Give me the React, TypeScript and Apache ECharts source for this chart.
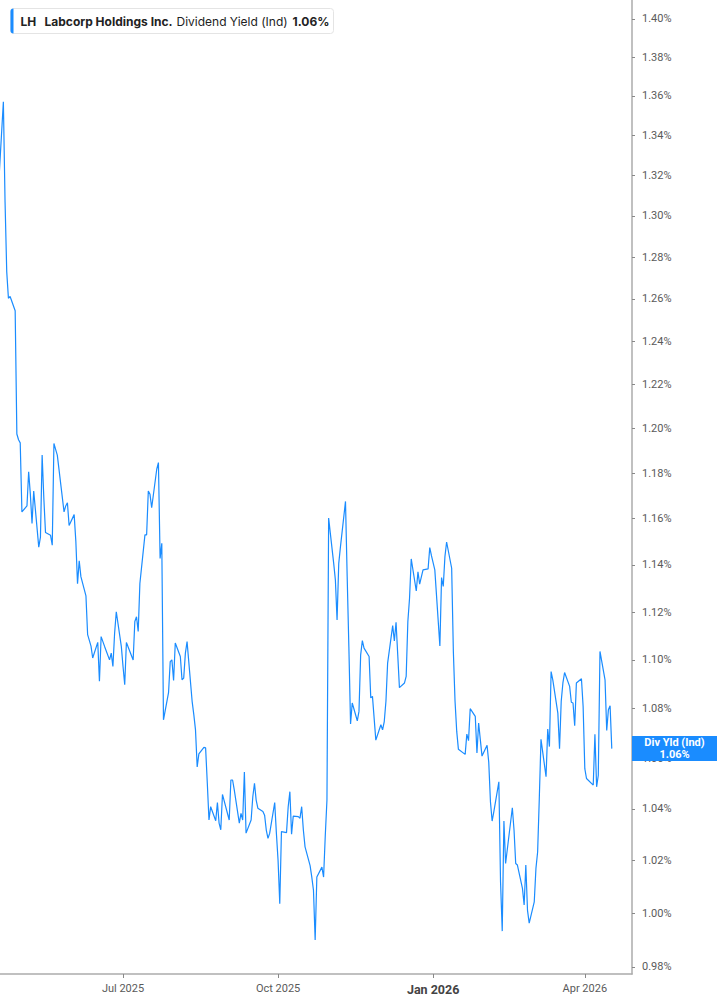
import { useEffect, useRef } from 'react'
import * as echarts from 'echarts'

// daily dividend yield (%), one value per trading day from mid-April 2025
const yieldValues = [
  1.3127, 1.357, 1.3068, 1.2729, 1.2603, 1.2612, 1.2544, 1.1976, 1.195, 1.1936,
  1.163, 1.1656, 1.1807, 1.1708, 1.1579, 1.1722, 1.1477, 1.152, 1.1881, 1.1691,
  1.154, 1.1528, 1.1485, 1.1933, 1.1907, 1.1881, 1.163, 1.1656, 1.167, 1.1571,
  1.1618, 1.1502, 1.132, 1.1418, 1.135, 1.1268, 1.1105, 1.1081, 1.1057, 1.1008,
  1.1073, 1.0912, 1.1097, 1.1057,
  1.1, 1.1028, 1.0973, 1.1111, 1.1201, 1.1055, 1.0973, 1.0898, 1.1072, 1.1,
  1.116, 1.118, 1.1118, 1.1321, 1.153, 1.153, 1.1722, 1.1707, 1.1648, 1.1818,
  1.1848, 1.1428, 1.1493, 1.0755, 1.0865, 1.0993, 1.1, 1.0915, 1.107, 1.1014,
  1.0918, 1.0925, 1.1028, 1.1076, 1.083, 1.0776, 1.0714,
  1.0566, 1.0618, 1.0644, 1.0642, 1.0502, 1.0357,
  1.0409, 1.0354, 1.0425, 1.0345, 1.0319, 1.0457, 1.0357, 1.0514, 1.0514, 1.0475,
  1.0345, 1.0383, 1.0357, 1.0546, 1.0306, 1.0357, 1.0448, 1.0501, 1.0435, 1.0403,
  1.039, 1.0376, 1.0318, 1.0286, 1.0305, 1.0425, 1.0305, 1.02, 1.0036, 1.0312,
  1.0308, 1.0409, 1.0468, 1.0302, 1.0372, 1.037, 1.0364, 1.0409, 1.0318, 1.0253,
  1.0181, 1.0137, 1.0087, 0.99, 1.0137, 1.0175, 1.0137, 1.0296, 1.0435,
  1.1603, 1.1407, 1.1336, 1.1167, 1.1407, 1.1478, 1.1676, 1.135, 1.1055, 1.0738,
  1.0823, 1.0751, 1.0789, 1.1021, 1.108, 1.1049, 1.1014, 1.0844, 1.085, 1.0673,
  1.0735, 1.0714, 1.0748, 1.083, 1.0987, 1.1143, 1.1079, 1.1157, 1.1021,
  1.0886, 1.0905, 1.0932, 1.116, 1.1258, 1.1426, 1.1289, 1.1371, 1.1318,
  1.1379,
  1.1383, 1.1475, 1.144, 1.1379, 1.1058, 1.1346, 1.1308, 1.1436, 1.1499, 1.1386,
  1.1035, 1.083, 1.0708, 1.0636, 1.0616, 1.0697, 1.0671, 1.08, 1.0769, 1.0622,
  1.0742, 1.0675, 1.0609, 1.0652, 1.0585, 1.0429, 1.0353, 1.0389, 1.0507, 1.0118,
  0.9933, 1.0353, 1.0189, 1.0405, 1.0318, 1.0189, 1.0183, 1.0094, 1.0031, 1.0183,
  1.0011, 0.9963, 1.0043, 1.017, 1.0233,
  1.0442, 1.0676, 1.0527, 1.0718, 1.0647, 1.0952, 1.0918, 1.0782, 1.0639, 1.083,
  1.0905, 1.0948, 1.0891, 1.0826, 1.0823, 1.0731, 1.0905, 1.0922, 1.0809, 1.0559,
  1.052, 1.0494, 1.0697, 1.0487, 1.0533, 1.1035, 1.0918, 1.0712, 1.0796, 1.0812,
  1.0639,
]

const firstDay = '2025-04-18'
const marketHolidays = [
  '2025-05-26', '2025-06-19', '2025-07-04', '2025-09-01', '2025-11-27',
  '2025-12-25', '2026-01-01', '2026-01-19', '2026-02-16', '2026-04-03',
]

const xMin = '2025-04-19'
const xMax = '2026-04-29'
const xTicks = ['2025-07-01', '2025-10-01', '2026-01-01', '2026-04-01']
const yTicks = [
  0.98, 1.0, 1.02, 1.04, 1.06, 1.08, 1.1, 1.12, 1.14, 1.16, 1.18, 1.2, 1.22, 1.24, 1.26,
  1.28, 1.3, 1.32, 1.34, 1.36, 1.38, 1.4,
]
const yMin = 0.9774
const yMax = 1.41

const ticker = 'LH'
const company = 'Labcorp Holdings Inc.'
const metric = 'Dividend Yield (Ind)'
const shortMetric = 'Div Yld (Ind)'

const BLUE = '#1a8cff'
const MONTHS = ['Jan', 'Feb', 'Mar', 'Apr', 'May', 'Jun', 'Jul', 'Aug', 'Sep', 'Oct', 'Nov', 'Dec']
const GRID_RIGHT = 85
const WIDTH = 717
const HEIGHT = 1005

const toTime = (iso: string) => Date.parse(iso + 'T00:00:00Z')

function tradingDates(count: number): number[] {
  const out: number[] = []
  const d = new Date(firstDay + 'T00:00:00Z')
  while (out.length < count) {
    const day = d.getUTCDay()
    const iso = d.toISOString().slice(0, 10)
    if (day !== 0 && day !== 6 && !marketHolidays.includes(iso)) out.push(d.getTime())
    d.setUTCDate(d.getUTCDate() + 1)
  }
  return out
}

export default function App() {
  const ref = useRef<HTMLDivElement>(null)

  useEffect(() => {
    document.body.style.margin = '0'
    const el = ref.current
    if (!el) return
    const chart = echarts.init(el, undefined, { renderer: 'svg' })

    const dates = tradingDates(yieldValues.length)
    const points = yieldValues.map((v, i) => [dates[i], v])
    const last = yieldValues[yieldValues.length - 1]
    const font = 'Roboto, "DejaVu Sans", sans-serif'
    const xTickTimes = xTicks.map(toTime)

    chart.setOption({
      animation: false,
      backgroundColor: '#ffffff',
      grid: { left: 0, right: GRID_RIGHT, top: 0, bottom: 31, containLabel: false, outerBoundsMode: 'none' },
      xAxis: {
        type: 'value',
        min: toTime(xMin),
        max: toTime(xMax),
        axisLine: { show: true, lineStyle: { color: '#ababab', width: 1.5 } },
        axisTick: { show: true, length: 4, lineStyle: { color: '#888' }, customValues: xTickTimes },
        splitLine: { show: false },
        axisLabel: {
          customValues: xTickTimes,
          margin: 9,
          color: '#5a5a5a',
          fontSize: 11,
          fontFamily: font,
          formatter: (value: number) => {
            const d = new Date(value)
            const text = `${MONTHS[d.getUTCMonth()]} ${d.getUTCFullYear()}`
            return d.getUTCMonth() === 0 ? `{b|${text}}` : text
          },
          rich: { b: { fontWeight: 'bold', fontSize: 12.5, color: '#444', fontFamily: font } },
        },
      },
      yAxis: {
        type: 'log',
        position: 'right',
        min: yMin,
        max: yMax,
        axisLine: { show: true, lineStyle: { color: '#ababab', width: 1.5 } },
        axisTick: { show: true, length: 3, lineStyle: { color: '#888' }, customValues: yTicks },
        splitLine: { show: false },
        axisLabel: {
          customValues: yTicks,
          margin: 10,
          color: '#5a5a5a',
          fontSize: 11,
          fontFamily: font,
          formatter: (v: number) => `${v.toFixed(2)}%`,
        },
      },
      series: [
        {
          type: 'line',
          data: points,
          showSymbol: false,
          symbol: 'none',
          lineStyle: { color: BLUE, width: 1.2 },
        },
      ],
    })

    // last-value tag on the price axis, placed through the y scale
    const py = chart.convertToPixel({ yAxisIndex: 0 }, last) as number
    const boxX = WIDTH - GRID_RIGHT
    const cx = boxX + GRID_RIGHT / 2

    chart.setOption({
      graphic: [
        {
          type: 'group',
          left: 10,
          top: 8,
          children: [
            {
              type: 'rect',
              shape: { x: 0, y: 0, width: 323, height: 25, r: 3 },
              style: { fill: '#fff', stroke: '#e4e4e4', lineWidth: 1 },
            },
            {
              type: 'rect',
              shape: { x: 0, y: 0, width: 3, height: 25, r: [3, 0, 0, 3] },
              style: { fill: BLUE },
            },
            {
              type: 'text',
              x: 10,
              y: 12.5,
              style: { text: ticker, fill: '#222', font: 'bold 12px Inter', verticalAlign: 'middle' },
            },
            {
              type: 'text',
              x: 34,
              y: 12.5,
              style: { text: company, fill: '#222', font: 'bold 12px Inter', verticalAlign: 'middle' },
            },
            {
              type: 'text',
              x: 166,
              y: 12.5,
              style: { text: metric, fill: '#222', font: '12px Inter', verticalAlign: 'middle' },
            },
            {
              type: 'text',
              x: 282,
              y: 12.5,
              style: {
                text: `${last.toFixed(2)}%`,
                fill: '#222',
                font: 'bold 12px Inter',
                verticalAlign: 'middle',
              },
            },
          ],
        },
        {
          type: 'rect',
          z: 100,
          shape: { x: boxX, y: py - 12.5, width: GRID_RIGHT, height: 25 },
          style: { fill: BLUE },
        },
        {
          type: 'text',
          z: 101,
          x: cx,
          y: py - 6,
          style: {
            text: shortMetric,
            fill: '#fff',
            font: `bold 11px ${font}`,
            align: 'center',
            verticalAlign: 'middle',
          },
        },
        {
          type: 'text',
          z: 101,
          x: cx,
          y: py + 6,
          style: {
            text: `${last.toFixed(2)}%`,
            fill: '#fff',
            font: `bold 11px ${font}`,
            align: 'center',
            verticalAlign: 'middle',
          },
        },
      ],
    })

    return () => chart.dispose()
  }, [])

  return <div ref={ref} style={{ width: WIDTH, height: HEIGHT }} />
}
